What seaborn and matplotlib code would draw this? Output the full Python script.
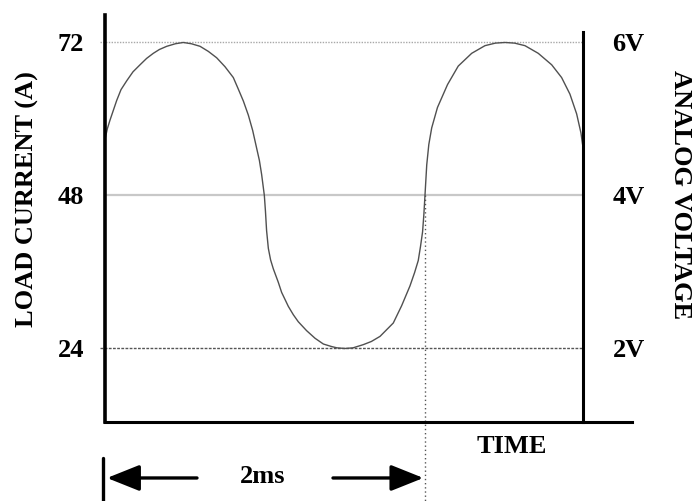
import matplotlib
matplotlib.use("Agg")
import matplotlib.pyplot as plt
import seaborn as sns

# --- data ---
time_ms = [0.0, 0.015, 0.031, 0.073, 0.10, 0.136, 0.175, 0.219, 0.26, 0.302,
           0.34, 0.386, 0.44, 0.489, 0.54, 0.594, 0.646, 0.698, 0.75, 0.802,
           0.833, 0.865, 0.896, 0.923, 0.948, 0.965, 0.979, 0.996, 1.003, 1.010,
           1.021, 1.035, 1.052, 1.083, 1.104, 1.146, 1.177, 1.208, 1.260, 1.313,
           1.365, 1.417, 1.45, 1.5, 1.55, 1.614, 1.665, 1.719, 1.802, 1.854,
           1.906, 1.935, 1.958, 1.972, 1.985, 1.993, 2.0, 2.011, 2.024, 2.042,
           2.078, 2.141, 2.208, 2.292, 2.375, 2.44, 2.5, 2.56, 2.625, 2.708,
           2.792, 2.854, 2.906, 2.948, 2.975, 2.985]
current_a = [56.8, 58.5, 59.8, 62.9, 64.6, 66.0, 67.4, 68.5, 69.5, 70.3,
             70.9, 71.4, 71.8, 72.0, 71.8, 71.4, 70.6, 69.6, 68.2, 66.5,
             64.7, 62.8, 60.6, 58.2, 55.4, 53.5, 51.3, 48.0, 45.5, 42.5,
             39.7, 37.9, 36.5, 34.4, 32.8, 30.6, 29.3, 28.2, 26.8, 25.6,
             24.7, 24.3, 24.1, 24.0, 24.1, 24.6, 25.1, 25.9, 28.0, 30.7,
             33.8, 35.9, 37.8, 40.0, 42.3, 45.0, 48.0, 52.8, 56.0, 58.6,
             61.8, 65.4, 68.3, 70.3, 71.5, 71.9, 72.0, 71.9, 71.5, 70.3,
             68.5, 66.5, 63.9, 60.8, 57.8, 56.0]

current_ticks = [24, 48, 72]
volt_labels = ["2V", "4V", "6V"]
period_ms = 2.0
t_end = 2.99

sns.set_style("white")
plt.rcParams['font.family'] = ['Liberation Serif', 'DejaVu Serif']
plt.rcParams['font.weight'] = 'bold'
plt.rcParams['text.color'] = 'black'
plt.rcParams['ytick.color'] = 'black'
plt.rcParams['axes.labelcolor'] = 'black'
FS = 19

fig = plt.figure(figsize=(6.94, 5.01), dpi=100)
ax = fig.add_axes([105 / 694, 1 - 422 / 501, 527 / 694, 407 / 501])
ax.set_xlim(0, 3.294)
ax.set_ylim(12.47, 76.31)

# reference lines
ax.hlines(72, -0.03, t_end, colors='#a8a8a8', linestyles=(0, (1, 1)), lw=1, clip_on=False)
ax.hlines(48, 0, t_end, colors='#c8c8c8', linestyles='-', lw=1.6)
ax.hlines(24, -0.03, t_end, colors='#555555', linestyles=(0, (2, 1)), lw=1, clip_on=False)
ax.plot([period_ms, period_ms], [48, 0.0], color='#555555', ls=(0, (1, 2)), lw=1, clip_on=False)

sns.lineplot(x=time_ms, y=current_a, ax=ax, color='#505050', lw=1.0, sort=False)

# spines
for s in ['top', 'right']:
    ax.spines[s].set_visible(False)
ax.spines['left'].set_linewidth(2.6)
ax.spines['bottom'].set_linewidth(2.2)
ax.spines['left'].set_color('black')
ax.spines['bottom'].set_color('black')

ax.set_xticks([])
ax.set_yticks(current_ticks)
ax.set_yticklabels([str(v) for v in current_ticks], fontsize=FS, fontweight='bold', color='black')
ax.tick_params(axis='y', length=0, pad=15)

# right axis (voltage)
ax2 = ax.twinx()
ax2.set_ylim(ax.get_ylim())
for s in ['top', 'left', 'bottom']:
    ax2.spines[s].set_visible(False)
ax2.spines['right'].set_position(('data', t_end))
ax2.spines['right'].set_bounds(12.47, 73.6)
ax2.spines['right'].set_linewidth(2.2)
ax2.spines['right'].set_color('black')
ax2.set_yticks(current_ticks)
ax2.set_yticklabels(volt_labels, fontsize=FS, fontweight='bold', color='black')
ax2.tick_params(axis='y', length=0, pad=21)

fig.text(27.5 / 694, 1 - 199 / 501, "LOAD CURRENT (A)", rotation=90,
         ha='center', va='center', fontsize=FS, fontweight='bold', color='black')
fig.text(681 / 694, 1 - 195 / 501, "ANALOG VOLTAGE", rotation=270,
         ha='center', va='center', fontsize=FS, fontweight='bold', color='black')

ax.text(2.544, 8.55, "TIME", ha='center', va='center', fontsize=FS, fontweight='bold', color='black')

# 2ms span marker
arrow_y = 3.69
ax.plot([-0.0125, -0.0125], [6.8, 0.0], color='black', lw=2.4, clip_on=False)
ax.annotate("", xy=(0.0125, arrow_y), xytext=(0.575, arrow_y), annotation_clip=False,
            arrowprops=dict(arrowstyle='-|>,head_length=1.0,head_width=0.4',
                            mutation_scale=20, lw=2.4, color='black', shrinkA=0, shrinkB=0))
ax.annotate("", xy=(1.99, arrow_y), xytext=(1.425, arrow_y), annotation_clip=False,
            arrowprops=dict(arrowstyle='-|>,head_length=1.0,head_width=0.4',
                            mutation_scale=20, lw=2.4, color='black', shrinkA=0, shrinkB=0))
ax.text(0.9875, 3.85, "2ms", ha='center', va='center', fontsize=FS, fontweight='bold', color='black')

fig.savefig("out.png", dpi=100)
